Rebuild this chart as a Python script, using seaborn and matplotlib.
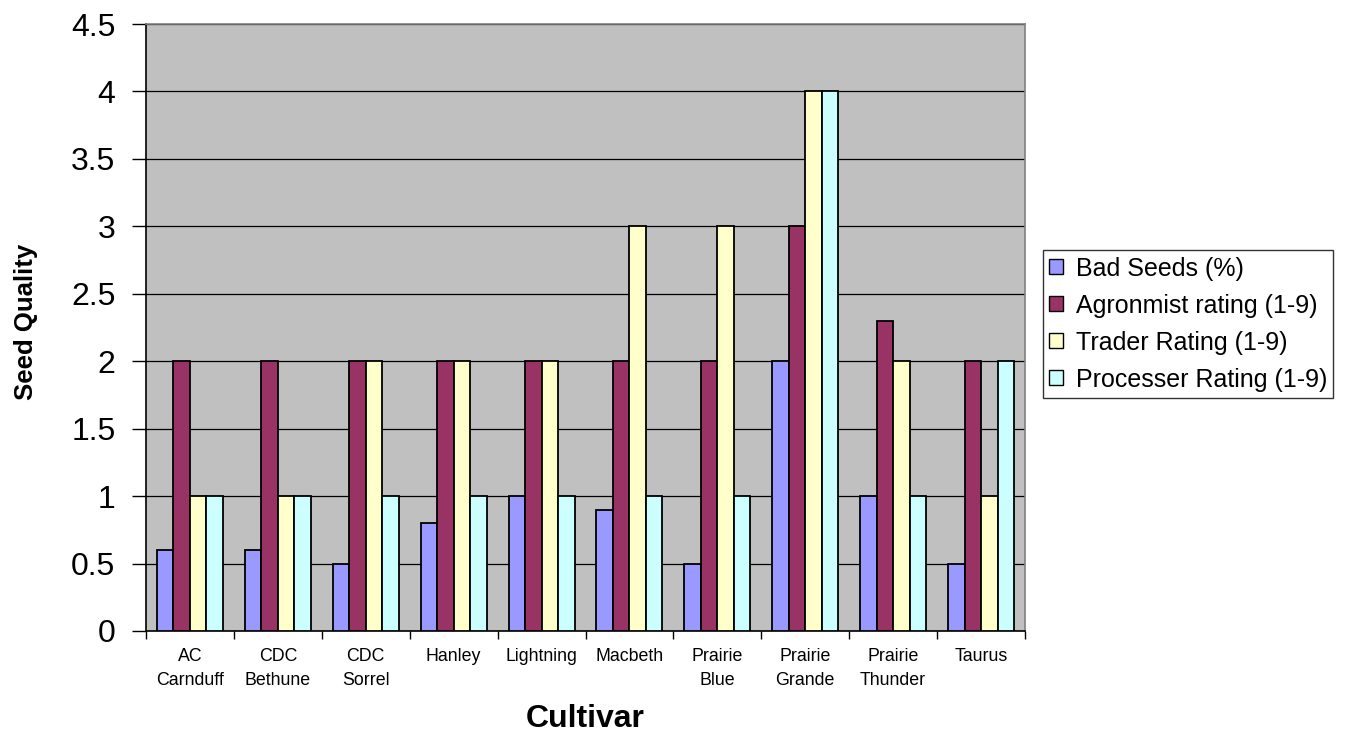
import numpy as np
import pandas as pd
import matplotlib
matplotlib.use("Agg")
import matplotlib.pyplot as plt
import seaborn as sns

cultivars = ["AC\nCarnduff", "CDC\nBethune", "CDC\nSorrel", "Hanley", "Lightning",
             "Macbeth", "Prairie\nBlue", "Prairie\nGrande", "Prairie\nThunder", "Taurus"]
bad_seeds = [0.6, 0.6, 0.5, 0.8, 1.0, 0.9, 0.5, 2.0, 1.0, 0.5]
agronomist = [2, 2, 2, 2, 2, 2, 2, 3, 2.3, 2]
trader = [1, 1, 2, 2, 2, 3, 3, 4, 2, 1]
processer = [1, 1, 1, 1, 1, 1, 1, 4, 1, 2]
series_names = ["Bad Seeds (%)", "Agronmist rating (1-9)", "Trader Rating (1-9)",
                "Processer Rating (1-9)"]
colors = ["#9999FF", "#993366", "#FFFFCC", "#CCFFFF"]
y_ticks = [0, 0.5, 1, 1.5, 2, 2.5, 3, 3.5, 4, 4.5]

rows = []
for name, vals in zip(series_names, [bad_seeds, agronomist, trader, processer]):
    for c, v in zip(cultivars, vals):
        rows.append({"Cultivar": c, "Series": name, "Value": v})
df = pd.DataFrame(rows)

sns.set_theme(style="white")
plt.rcParams["font.family"] = ["Liberation Sans", "DejaVu Sans"]
plt.rcParams["text.color"] = "black"
plt.rcParams["axes.labelcolor"] = "black"
plt.rcParams["xtick.color"] = "black"
plt.rcParams["ytick.color"] = "black"

fig = plt.figure(figsize=(13.46, 7.32), dpi=100)
ax = fig.add_axes([146 / 1346, 1 - 631 / 732, 879 / 1346, 607 / 732])
ax.set_facecolor("#C0C0C0")

sns.barplot(data=df, x="Cultivar", y="Value", hue="Series", hue_order=series_names,
            order=cultivars, palette=colors, width=0.75, edgecolor="black",
            linewidth=1.3, saturation=1, errorbar=None, ax=ax, zorder=3)

ax.set_ylim(0, 4.5)
ax.set_xlim(-0.5, len(cultivars) - 0.5)
ax.set_yticks(y_ticks)
ax.set_yticklabels([f"{t:g}" for t in y_ticks], fontsize=23, color="black")
for t in y_ticks:
    ax.axhline(t, color="black", linewidth=0.9, zorder=1)

# x ticks: labels at centers, tick marks at group boundaries
ax.set_xticks(np.arange(len(cultivars)))
ax.set_xticklabels(cultivars, fontsize=12.8, linespacing=1.6, color="black")
ax.tick_params(axis="x", which="major", length=0, pad=12)
ax.set_xticks(np.arange(-0.5, len(cultivars)), minor=True)
ax.tick_params(axis="x", which="minor", length=6, width=1, color="black", direction="out",
               bottom=True)
ax.tick_params(axis="y", which="major", length=10, width=1, color="black", direction="out",
               left=True, pad=12)

for side in ["top", "right"]:
    ax.spines[side].set_color("#808080")
    ax.spines[side].set_linewidth(1.2)
for side in ["left", "bottom"]:
    ax.spines[side].set_color("black")
    ax.spines[side].set_linewidth(1.2)

ax.set_xlabel("Cultivar", fontsize=23, fontweight="bold", color="black")
ax.set_ylabel("Seed Quality", fontsize=18.5, fontweight="bold", color="black")
ax.xaxis.set_label_coords(0.5, -0.12)
ax.yaxis.set_label_coords(-0.123, 0.509)

handles, labels = ax.get_legend_handles_labels()
ax.get_legend().remove()
leg = fig.legend(handles, labels, loc="center left", bbox_to_anchor=(1043 / 1346, 1 - 324 / 732),
                 fontsize=18, frameon=True, fancybox=False, edgecolor="black",
                 handlelength=0.55, handleheight=0.55, handletextpad=0.5,
                 borderpad=0.25, labelspacing=0.52, borderaxespad=0)
leg.get_frame().set_linewidth(1.0)
for txt in leg.get_texts():
    txt.set_color("black")
for h in leg.legend_handles:
    h.set_edgecolor("black")
    h.set_linewidth(1.0)

fig.savefig("out.png", dpi=100, facecolor="white")
